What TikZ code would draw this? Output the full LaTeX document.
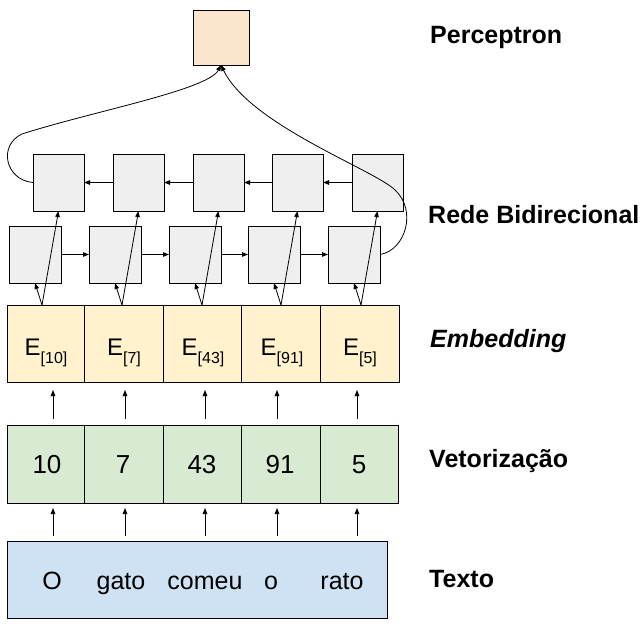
\documentclass[tikz,border=0pt]{standalone}
\usepackage{fontspec}
\setmainfont{Liberation Sans}
\usetikzlibrary{arrows.meta,calc}
\definecolor{percfill}{HTML}{FCE5CD}
\definecolor{grayfill}{HTML}{EFEFEF}
\definecolor{embfill}{HTML}{FFF2CC}
\definecolor{vecfill}{HTML}{D9EAD3}
\definecolor{txtfill}{HTML}{CFE2F3}
\begin{document}
\begin{tikzpicture}[x=1pt,y=-1pt,
  box/.style={draw=black,line width=0.9pt,inner sep=0pt,outer sep=0pt},
  gbox/.style={box,fill=grayfill,minimum width=51pt,minimum height=57pt},
  arr/.style={-{Triangle[length=6pt,width=4.5pt]},line width=0.8pt},
  lab/.style={anchor=base west,inner sep=0pt,font=\fontsize{25}{30}\selectfont\bfseries},
  celltxt/.style={anchor=base,inner sep=0pt,font=\fontsize{24}{28}\selectfont},
  numtxt/.style={anchor=base,inner sep=0pt,font=\fontsize{26}{30}\selectfont},
  wordtxt/.style={anchor=base,inner sep=0pt,font=\fontsize{25}{30}\selectfont}
]
\useasboundingbox (0,0) rectangle (644,625);

% Perceptron
\node[box,fill=percfill,minimum width=56pt,minimum height=55pt] (p) at (221,37.5) {};

% Backward row
\foreach \i/\x in {1/58.5,2/138.5,3/218.5,4/297.5,5/377.5}
  \node[gbox] (b\i) at (\x,182.5) {};
% Forward row
\foreach \i/\x in {1/35,2/115,3/195,4/274,5/354}
  \node[gbox,minimum width=52pt] (f\i) at (\x,254.5) {};

% Embedding cells
\foreach \i/\xa/\xb in {1/7/84,2/84/163,3/163/241,4/241/320,5/320/399}
  \node[box,fill=embfill,minimum width={\xb pt-\xa pt},minimum height=77pt] (e\i) at ({(\xa+\xb)/2},343.5) {};
% Vector cells
\foreach \i/\xa/\xb in {1/7/84,2/84/163,3/163/241,4/241/320,5/320/398}
  \node[box,fill=vecfill,minimum width={\xb pt-\xa pt},minimum height=78pt] (v\i) at ({(\xa+\xb)/2},464) {};
% Text box
\node[box,fill=txtfill,minimum width=380pt,minimum height=77pt] (t) at (197,579.5) {};

% Embedding texts
\newcommand{\esub}[1]{E\raisebox{-8pt}{\fontsize{16}{16}\selectfont[#1]}}
\node[celltxt] (te1) at (46,355) {\esub{10}};
\node[celltxt] (te2) at (124,355) {\esub{7}};
\node[celltxt] (te3) at (203,355) {\esub{43}};
\node[celltxt] (te4) at (282,355) {\esub{91}};
\node[celltxt] (te5) at (360,355) {\esub{5}};

% Vector texts
\node[numtxt] (tv1) at (47,473) {10};
\node[numtxt] (tv2) at (123,473) {7};
\node[numtxt] (tv3) at (202,473) {43};
\node[numtxt] (tv4) at (280,473) {91};
\node[numtxt] (tv5) at (359,473) {5};

% Words
\node[wordtxt] (w1) at (52,589) {O};
\node[wordtxt] (w2) at (121,589) {gato};
\node[wordtxt] (w3) at (205,589) {comeu};
\node[wordtxt] (w4) at (271,589) {o};
\node[wordtxt] (w5) at (342,589) {rato};

% Column coordinates for vertical arrows
\foreach \i/\x in {1/53,2/125,3/205,4/277,5/357}
  \coordinate (c\i) at (\x,400);
\foreach \i in {1,...,5} {
  \draw[arr,shorten <=5pt,shorten >=5pt] (t.north -| c\i) -- (v\i.south -| c\i);
  \draw[arr,shorten <=6pt,shorten >=8pt] (v\i.north -| c\i) -- (e\i.south -| c\i);
}

% Embedding to RNN
\foreach \i/\x in {1/42,2/122,3/202,4/281,5/361} {
  \coordinate (o\i) at (\x,305);
  \draw[arr] (o\i) -- (f\i.south);
  \draw[arr] (o\i) -- (b\i.south);
}

% Recurrent connections
\foreach \i/\j in {1/2,2/3,3/4,4/5} {
  \draw[arr] (f\i.east) -- (f\j.west);
  \draw[arr] (b\j.west) -- (b\i.east);
}

% Curves to perceptron
\draw[arr] (b1.west) .. controls (5,180) and (-2,145) .. (22,134)
  .. controls (90,112) and (208,90) .. (p.south);
\draw[arr] (f5.east) .. controls (406,250) and (417,210) .. (395,190)
  .. controls (375,170) and (250,125) .. (p.south);

% Labels
\node[lab] (lp) at (430,43) {Perceptron};
\node[lab] (lr) at (428,223) {Rede Bidirecional};
\node[lab] (le) at (430,347) {\itshape Embedding};
\node[lab] (lv) at (429,467) {Vetorização};
\node[lab] (lt) at (429,587) {Texto};
\end{tikzpicture}
\end{document}
